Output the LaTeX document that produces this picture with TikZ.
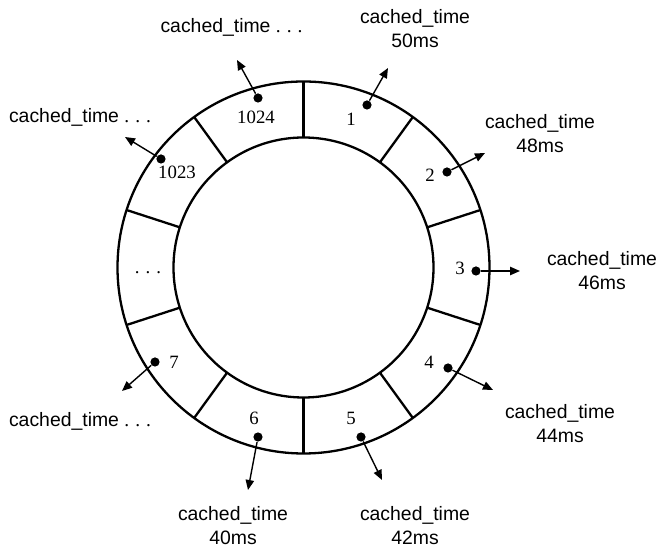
\documentclass[tikz,border=0pt]{standalone}
\usepackage{fontspec}
\setmainfont{Liberation Serif}
\newfontfamily\timefont{Liberation Sans}
\usetikzlibrary{arrows.meta}
\newcommand{\spdots}{{\rmfamily.\kern3pt.\kern3pt.}}

\begin{document}
\begin{tikzpicture}[x=0.5pt,y=0.5pt]
	\tikzstyle{slotdot}=[circle,fill=black,inner sep=0pt,minimum size=4.6pt]
	\tikzstyle{slotnum}=[inner sep=0pt,font=\fontsize{9.4}{10}\selectfont]
	\tikzstyle{timebox}=[align=center,inner sep=0pt,font=\timefont\fontsize{9.7}{12}\selectfont]
	\tikzstyle{ptr}=[line width=0.7pt,-{Triangle[length=5pt,width=4.2pt]}]
	\useasboundingbox (-303.5,-281.5) rectangle (353.5,267.5);
	% ring
	\draw[line width=1.15pt] (0,0) circle [radius=186];
	\draw[line width=1.15pt] (0,0) circle [radius=130];
	\foreach \a in {90,54,18,-18,-54,-90,-126,-162,-198,-234}
		\draw[line width=1.15pt] (\a:130) -- (\a:186);
	% slots
	\node[slotnum] (n1024) at (-47.5,150.5) {1024};
	\node[slotnum] (n1) at (47.5,148.5) {1};
	\node[slotnum] (n2) at (126.5,92.5) {2};
	\node[slotnum] (n3) at (156.5,-0.5) {3};
	\node[slotnum] (n4) at (125.5,-94.5) {4};
	\node[slotnum] (n5) at (47.5,-150.5) {5};
	\node[slotnum] (n6) at (-49.5,-150.5) {6};
	\node[slotnum] (n7) at (-129.5,-94.5) {7};
	\node[slotnum] (nmore) at (-155.5,-5.5) {\spdots};
	\node[slotnum] (n1023) at (-126.5,95.5) {1023};
	% pointers
	\node[slotdot] (d1024) at (-45.5,169.5) {};
	\node[slotdot] (d1) at (63.5,162.5) {};
	\node[slotdot] (d2) at (143.5,95.5) {};
	\node[slotdot] (d3) at (172.5,-3.5) {};
	\node[slotdot] (d4) at (144.5,-100.5) {};
	\node[slotdot] (d5) at (57.5,-169.5) {};
	\node[slotdot] (d6) at (-45.5,-169.5) {};
	\node[slotdot] (d7) at (-148.5,-94.5) {};
	\node[slotdot] (d1023) at (-142.5,108.5) {};
	\coordinate (a1024) at (-66.5,207.5);
	\coordinate (a1) at (84.5,199.5);
	\coordinate (a2) at (181.5,114.5);
	\coordinate (a3) at (216.5,-3.5);
	\coordinate (a4) at (189.5,-122.5);
	\coordinate (a5) at (78.5,-212.5);
	\coordinate (a6) at (-55.5,-222.5);
	\coordinate (a7) at (-181.5,-123.5);
	\coordinate (a1023) at (-178.5,130.5);
	\foreach \s in {1024,1,2,3,4,5,6,7,1023}
		\draw[ptr] (d\s) -- (a\s);
	% cached times
	\node[timebox] (t1024) at (-72,240.5) {cached\_time \spdots};
	\node[timebox] (t1) at (111.5,238.5) {cached\_time\\50ms};
	\node[timebox] (t2) at (236.5,134) {cached\_time\\48ms};
	\node[timebox] (t3) at (298.5,-3) {cached\_time\\46ms};
	\node[timebox] (t4) at (256.5,-156.5) {cached\_time\\44ms};
	\node[timebox] (t5) at (111.5,-258.5) {cached\_time\\42ms};
	\node[timebox] (t6) at (-70.5,-258.5) {cached\_time\\40ms};
	\node[timebox] (t7) at (-223.5,-153.5) {cached\_time \spdots};
	\node[timebox] (t1023) at (-223.5,150.5) {cached\_time \spdots};
\end{tikzpicture}
\end{document}
